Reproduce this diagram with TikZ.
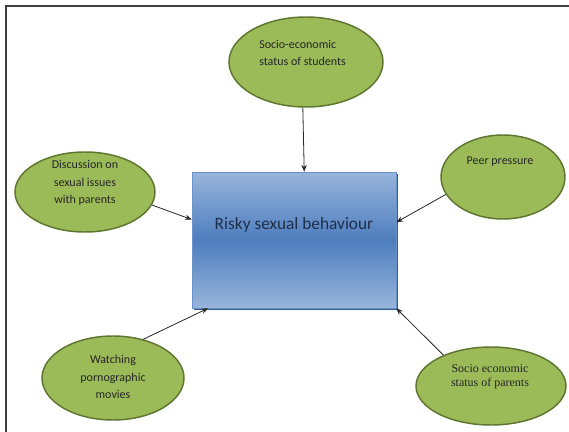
\documentclass[tikz,border=0pt]{standalone}
\usepackage{fontspec}
\setmainfont{Carlito}
\newfontfamily\timesfont{Liberation Serif}
\usepackage{xcolor}
\usetikzlibrary{arrows.meta,positioning,shapes.geometric,calc,shadows}

\definecolor{blobfill}{HTML}{9BBB59}
\definecolor{blobline}{HTML}{5E7630}
\definecolor{boxlight}{HTML}{98B5DB}
\definecolor{boxmid}{HTML}{4E7EBE}
\definecolor{boxline}{HTML}{6A93C9}
\definecolor{boxdark}{HTML}{385D8A}
\definecolor{boxtext}{HTML}{1F2F4A}

\begin{document}
\begin{tikzpicture}[
  x=0.75pt, y=-0.75pt,
  blob/.style={ellipse, draw=blobline, fill=blobfill, line width=1.1pt, inner sep=0pt},
  blobtext/.style={font=\fontsize{9}{13}\selectfont, text=black!85, align=center, inner sep=0pt},
  riskbox/.style={rectangle, draw=boxline, line width=0.5pt,
                  top color=boxlight, bottom color=boxlight, middle color=boxmid,
                  minimum width=153pt, minimum height=102pt, inner sep=0pt,
                  drop shadow={shadow xshift=1.8pt, shadow yshift=-1.8pt, fill=boxdark, opacity=1}},
  arr/.style={-{Stealth[length=5pt,width=4pt]}, line width=0.6pt, black!85}
]
\useasboundingbox (0,0) rectangle (569,432);
\draw[line width=0.8pt, black!75] (6,432) -- (6,6) -- (569,6);

\node[riskbox] (risk) at (294,240) {};
\node[font=\fontsize{13}{15}\selectfont, text=boxtext, inner sep=0pt] (risklabel) at (294,225) {Risky sexual behaviour};

\node[blob, minimum width=115.5pt, minimum height=67.5pt] (students) at (306,62) {};
\node[blobtext, align=left, anchor=west] (studentstext) at (259,53) {Socio-economic\\status of students};

\node[blob, minimum width=105pt, minimum height=60pt] (discussion) at (85,192) {};
\node[blobtext] (discussiontext) at (85,183) {Discussion on\\sexual issues\\with parents};

\node[blob, minimum width=93pt, minimum height=63pt] (peer) at (503,177) {};
\node[blobtext] (peertext) at (500,162) {Peer pressure};

\node[blob, minimum width=106.5pt, minimum height=63pt] (watching) at (113,378) {};
\node[blobtext] (watchingtext) at (113,377) {Watching\\pornographic\\movies};

\node[blob, minimum width=112.5pt, minimum height=58.5pt] (parents) at (491,386) {};
\node[blobtext, font=\timesfont\fontsize{9}{10.5}\selectfont] (parentstext) at (490,377) {Socio economic\\status of parents};

\draw[arr] (students.266) -- ($(risk.north west)!0.55!(risk.north east)$);
\draw[arr] (discussion.349) -- ($(risk.north west)!0.35!(risk.south west)$);
\draw[arr] (peer.197) -- ($(risk.north east)!0.37!(risk.south east)$);
\draw[arr] (watching.52) -- ($(risk.south west)!0.08!(risk.south east)$);
\draw[arr] (parents.147) -- (risk.south east);
\end{tikzpicture}
\end{document}
